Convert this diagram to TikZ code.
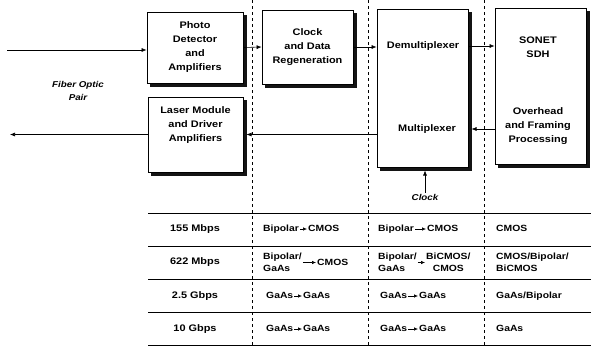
\documentclass[tikz,border=0pt]{standalone}
\usepackage{fontspec}
\setsansfont{Liberation Sans}[FakeStretch=1.15]
\usetikzlibrary{positioning}
\usetikzlibrary{arrows.meta}
\definecolor{shadowgray}{RGB}{20,20,20}

\begin{document}
\begin{tikzpicture}[x=1pt, y=-1pt,
    every node/.style={font=\sffamily\bfseries\fontsize{9.5}{14}\selectfont, inner sep=1pt},
    box/.style={draw=black, line width=0.8pt, fill=white},
    backing/.style={draw=shadowgray, line width=1pt, fill=shadowgray, inner sep=0pt},
    sig/.style={-{Latex[length=5pt,width=4pt]}, line width=0.6pt},
    tiny/.style={-{Latex[length=4pt,width=3.5pt]}, line width=0.6pt},
    divider/.style={dashed, line width=0.5pt},
    rowline/.style={line width=1pt},
    cell/.style={anchor=west, text height=7pt, text depth=2pt,
        font=\sffamily\bfseries\fontsize{9}{12}\selectfont},
    cell2/.style={anchor=west, font=\sffamily\bfseries\fontsize{9}{12}\selectfont},
    note/.style={font=\sffamily\bfseries\itshape\fontsize{8.5}{13}\selectfont}]
    \useasboundingbox (0,0) rectangle (601,354);
    \foreach \x in {252,368,484} {
        \draw[divider] (\x,0) -- (\x,345);
    }
    \foreach \y in {213,246,279,312,345} {
        \draw[rowline] (148,\y) -- (591,\y);
    }
    \foreach \n/\cx/\cy/\w/\h in {photo/195/47.5/96/71, laser/195.5/134.5/95/75, clock/307.5/47/91/74, mux/422.5/88/91/158, sonet/540.5/86/91/156} {
        \node[backing, minimum width=\w pt, minimum height=\h pt] (\n back) at (\cx+3,\cy+3) {};
    }
    \node[box, minimum width=96pt, minimum height=71pt, align=center] (photo) at (195,47.5)
        {Photo\\Detector\\and\\Amplifiers};
    \node[box, minimum width=95pt, minimum height=75pt] (laser) at (195.5,134.5) {};
    \node[align=center] (lasertxt) at (195.5,125) {Laser Module\\and Driver\\Amplifiers};
    \node[box, minimum width=91pt, minimum height=74pt, align=center] (clock) at (307.5,47)
        {Clock\\and Data\\Regeneration};
    \node[box, minimum width=91pt, minimum height=158pt] (mux) at (422.5,88) {};
    \node (demux) at (423,46) {Demultiplexer};
    \node (multi) at (427,129) {Multiplexer};
    \node[box, minimum width=91pt, minimum height=156pt] (sonet) at (540.5,86) {};
    \node[align=center] (sdh) at (538,47) {SONET\\SDH};
    \node[align=center] (ohd) at (538,126) {Overhead\\and Framing\\Processing};
    \node[note, align=center] (fiber) at (78,91) {Fiber Optic\\Pair};
    \node[note] (clk) at (425,197) {Clock};
    \coordinate (fin) at (7,50);
    \coordinate (fout) at (10,135);
    \draw[sig] (fin) -- (fin -| photo.west);
    \draw[sig] (laser.west) -- (laser.west -| fout);
    \draw[sig] (photo.east) -- (clock.west);
    \draw[sig] (clock.east) -- (clock.east -| mux.west);
    \draw[sig] (demux -| mux.east) -- (demux -| sonet.west);
    \draw[sig] (multi -| sonet.west) -- (multi -| muxback.east);
    \draw[sig] (laser.east -| mux.west) -- (laser.east -| laserback.east);
    \draw[sig] (clk.north) -- (clk.north |- muxback.south);
    \foreach \i/\y/\r in {1/229/155 Mbps, 2/262.5/622 Mbps, 3/296/2.5 Gbps, 4/329/10 Gbps} {
        \node (rate\i) at (195,\y) {\r};
    }
    \foreach \i/\y/\xa/\a/\xb/\b in {1/229/262/Bipolar/307/CMOS, 3/296/265/GaAs/302/GaAs, 4/329/265/GaAs/302/GaAs} {
        \node[cell] (fa\i) at (\xa,\y) {\a};
        \node[cell] (fb\i) at (\xb,\y) {\b};
        \draw[tiny] (fa\i) -- (fb\i);
    }
    \node[cell2, align=left] (fa2) at (262,262.5) {Bipolar/\\GaAs};
    \node[cell] (fb2) at (316,262.5) {CMOS};
    \draw[tiny] (fa2) -- (fb2);
    \foreach \i/\y/\xa/\a/\xb/\b in {1/229/377/Bipolar/426/CMOS, 3/296/379/GaAs/418/GaAs, 4/329/379/GaAs/418/GaAs} {
        \node[cell] (da\i) at (\xa,\y) {\a};
        \node[cell] (db\i) at (\xb,\y) {\b};
        \draw[tiny] (da\i) -- (db\i);
    }
    \node[cell2, align=left] (da2) at (377,262.5) {Bipolar/\\GaAs};
    \node[cell2, align=center] (db2) at (425,262.5) {BiCMOS/\\CMOS};
    \draw[tiny] (da2) -- (db2);
    \node[cell] (sa1) at (495,229) {CMOS};
    \node[cell2, align=left] (sa2) at (495,262.5) {CMOS/Bipolar/\\BiCMOS};
    \node[cell] (sa3) at (495,296) {GaAs/Bipolar};
    \node[cell] (sa4) at (495,329) {GaAs};
\end{tikzpicture}
\end{document}
